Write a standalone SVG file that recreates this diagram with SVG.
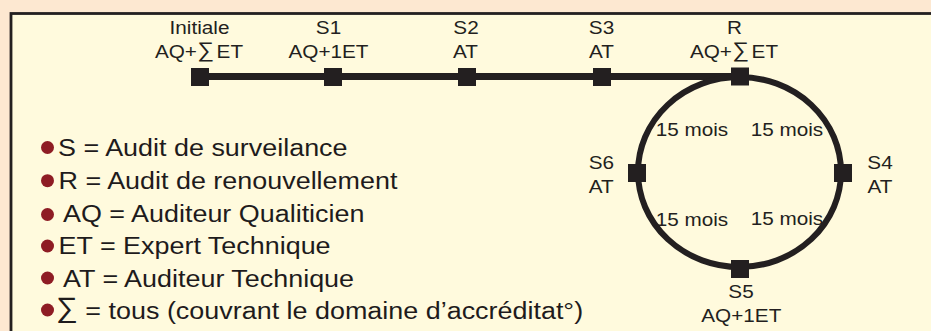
<svg xmlns="http://www.w3.org/2000/svg" width="931" height="331" viewBox="0 0 931 331">
  <defs>
    <style>
      .lbl { font-family: "Liberation Sans", Arial, Helvetica, sans-serif; font-size: 18.5px; fill: #231f20; text-anchor: middle; }
      .dur { font-family: "Liberation Sans", Arial, Helvetica, sans-serif; font-size: 18px; fill: #231f20; text-anchor: middle; }
      .leg { font-family: "Liberation Sans", Arial, Helvetica, sans-serif; font-size: 24.7px; fill: #1e1b1c; }
      .sig { font-size: 114%; baseline-shift: 6%; }
      .node { fill: #231f20; }
      .bullet { fill: #8e1c24; }
      .link { fill: none; stroke: #231f20; }
    </style>
  </defs>

  <!-- page and framed panel -->
  <rect x="0" y="0" width="931" height="331" fill="#fde8d1"/>
  <rect x="11" y="13.5" width="940" height="340" fill="#fffadd" stroke="#231f20" stroke-width="2.8"/>

  <!-- connectors: audit timeline and the 15-month renewal cycle -->
  <g id="connectors">
    <line class="link" x1="200" y1="76.5" x2="740" y2="76.5" stroke-width="7"/>
    <ellipse class="link" cx="739.5" cy="172" rx="101.5" ry="95" stroke-width="6"/>
    <text class="dur" transform="translate(692,136) scale(1.15,1)">15 mois</text>
    <text class="dur" transform="translate(787,136) scale(1.15,1)">15 mois</text>
    <text class="dur" transform="translate(692,226) scale(1.15,1)">15 mois</text>
    <text class="dur" transform="translate(787,224.5) scale(1.15,1)">15 mois</text>
  </g>

  <!-- audit milestones -->
  <g id="node-initiale">
    <rect class="node" x="191" y="68" width="18" height="18"/>
    <text class="lbl" transform="translate(199.5,34) scale(1.12,1)">Initiale</text>
    <text class="lbl" transform="translate(199,57.7) scale(1.12,1)">AQ+<tspan class="sig">∑</tspan><tspan dx="2.5">ET</tspan></text>
  </g>
  <g id="node-s1">
    <rect class="node" x="324" y="68" width="18" height="18"/>
    <text class="lbl" transform="translate(328.5,34) scale(1.12,1)">S1</text>
    <text class="lbl" transform="translate(328.5,57.7) scale(1.12,1)">AQ+1ET</text>
  </g>
  <g id="node-s2">
    <rect class="node" x="458" y="68" width="18" height="18"/>
    <text class="lbl" transform="translate(466,34) scale(1.12,1)">S2</text>
    <text class="lbl" transform="translate(465.5,57.7) scale(1.12,1)">AT</text>
  </g>
  <g id="node-s3">
    <rect class="node" x="593" y="68" width="18" height="18"/>
    <text class="lbl" transform="translate(601.5,34) scale(1.12,1)">S3</text>
    <text class="lbl" transform="translate(601.5,57.7) scale(1.12,1)">AT</text>
  </g>
  <g id="node-r">
    <rect class="node" x="731" y="67.5" width="18" height="18"/>
    <text class="lbl" transform="translate(734.5,34) scale(1.12,1)">R</text>
    <text class="lbl" transform="translate(734,57.7) scale(1.12,1)">AQ+<tspan class="sig">∑</tspan><tspan dx="2.5">ET</tspan></text>
  </g>
  <g id="node-s4">
    <rect class="node" x="834" y="164" width="18" height="18"/>
    <text class="lbl" transform="translate(880,169) scale(1.12,1)">S4</text>
    <text class="lbl" transform="translate(880,192.5) scale(1.12,1)">AT</text>
  </g>
  <g id="node-s5">
    <rect class="node" x="731" y="260" width="18" height="18"/>
    <text class="lbl" transform="translate(741,298.3) scale(1.12,1)">S5</text>
    <text class="lbl" transform="translate(741.3,322.3) scale(1.12,1)">AQ+1ET</text>
  </g>
  <g id="node-s6">
    <rect class="node" x="628" y="164" width="18" height="18"/>
    <text class="lbl" transform="translate(601.3,169) scale(1.12,1)">S6</text>
    <text class="lbl" transform="translate(601.3,192.5) scale(1.12,1)">AT</text>
  </g>

  <!-- legend -->
  <g id="legend">
    <circle class="bullet" cx="47.5" cy="147.5" r="6.5"/>
    <text class="leg" transform="translate(58,155.7) scale(1.09,1)">S = Audit de surveilance</text>
    <circle class="bullet" cx="47.5" cy="180.7" r="6.5"/>
    <text class="leg" transform="translate(58.5,189.3) scale(1.09,1)">R = Audit de renouvellement</text>
    <circle class="bullet" cx="47.5" cy="214.5" r="6.5"/>
    <text class="leg" transform="translate(63,222.3) scale(1.09,1)">AQ = Auditeur Qualiticien</text>
    <circle class="bullet" cx="47.5" cy="246" r="6.5"/>
    <text class="leg" transform="translate(58.5,254.3) scale(1.09,1)">ET = Expert Technique</text>
    <circle class="bullet" cx="47.5" cy="278" r="6.5"/>
    <text class="leg" transform="translate(63,287.3) scale(1.09,1)">AT = Auditeur Technique</text>
    <circle class="bullet" cx="47.5" cy="310" r="6.5"/>
    <text class="leg" transform="translate(56,319) scale(1.09,1)"><tspan class="sig">∑</tspan> = tous (couvrant le domaine d’accréditat°)</text>
  </g>
</svg>
